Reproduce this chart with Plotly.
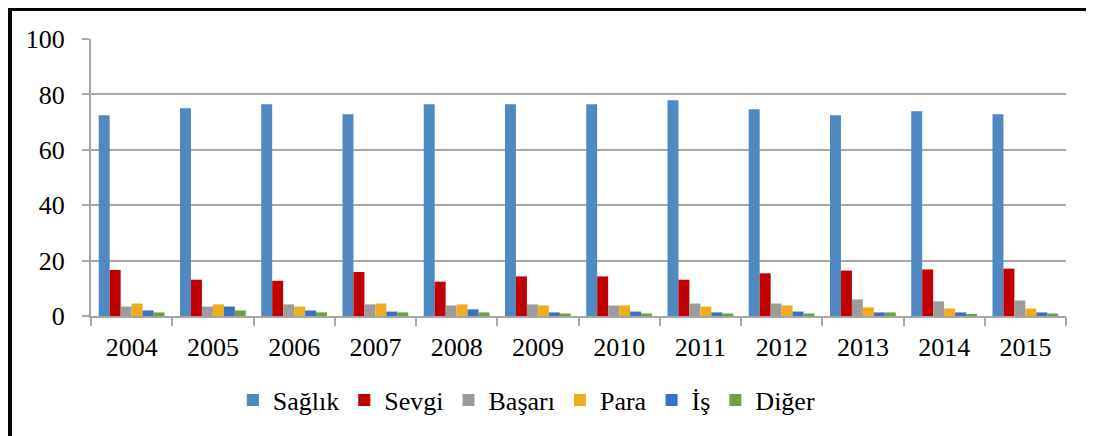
import plotly.graph_objects as go

years = ["2004", "2005", "2006", "2007", "2008", "2009", "2010", "2011", "2012", "2013", "2014", "2015"]
saglik = [72.5, 75.0, 76.4, 72.8, 76.4, 76.4, 76.4, 77.9, 74.6, 72.5, 73.9, 72.8]
sevgi = [16.6, 13.1, 12.7, 15.9, 12.4, 14.3, 14.3, 13.1, 15.4, 16.4, 16.8, 17.1]
basari = [3.4, 3.4, 4.2, 4.2, 3.8, 4.2, 3.8, 4.5, 4.5, 6.0, 5.3, 5.6]
para = [4.5, 4.2, 3.4, 4.5, 4.2, 3.8, 3.8, 3.4, 3.8, 3.1, 2.7, 2.7]
is_ = [2.0, 3.4, 2.0, 1.6, 2.4, 1.3, 1.6, 1.3, 1.6, 1.3, 1.3, 1.3]
diger = [1.3, 2.0, 1.3, 1.3, 1.3, 0.9, 0.9, 0.9, 0.9, 1.3, 0.5, 0.9]

series = [
    ("Sağlık", saglik, "#5089C2"),
    ("Sevgi", sevgi, "#C00000"),
    ("Başarı", basari, "#9C9C9C"),
    ("Para", para, "#EEAD1C"),
    ("İş", is_, "#3F6EBE"),
    ("Diğer", diger, "#6AA143"),
]

fig = go.Figure()
for name, vals, col in series:
    fig.add_trace(go.Bar(x=years, y=vals, name=name, marker_color=col, marker_line_width=0))

# page body has an 8px margin, so the figure starts at (8, 8) in the window
OFF = 8
W, H = 1094 - OFF, 436 - OFF
L, R, T, B = 91 - OFF, 28, 39 - OFF, 120
pw, ph = W - L - R, H - T - B

bx = (2 - L) / pw
by = 1 + (T - 1) / ph

fig.update_layout(
    width=W, height=H,
    margin=dict(l=L, r=R, t=T, b=B, pad=0, autoexpand=False),
    paper_bgcolor="white", plot_bgcolor="white",
    barmode="group", bargap=0.19, bargroupgap=0,
    font=dict(family="Liberation Serif, Times New Roman, serif", size=26, color="black"),
    showlegend=True,
    legend=dict(orientation="h", x=0.447, xanchor="center", y=(T + ph - (400 - OFF)) / ph, yanchor="middle",
                font=dict(size=26), itemsizing="constant", traceorder="normal",
                bgcolor="rgba(0,0,0,0)"),
    shapes=[dict(type="rect", xref="paper", yref="paper", x0=bx, x1=1.2, y0=-1, y1=by,
                 line=dict(color="black", width=4), fillcolor="rgba(0,0,0,0)", layer="above")],
)
fig.update_xaxes(type="category", showline=True, linecolor="#A6A6A6", linewidth=2,
                 ticks="outside", tickson="boundaries", ticklen=8, tickcolor="#A6A6A6", tickwidth=2,
                 showgrid=False, tickfont=dict(size=26), ticklabelstandoff=7)
fig.update_yaxes(range=[0, 100], dtick=20, showline=True, linecolor="#A6A6A6", linewidth=2,
                 ticks="outside", ticklen=7, tickcolor="#A6A6A6", tickwidth=2,
                 showgrid=True, gridcolor="#A6A6A6", gridwidth=2, zeroline=False,
                 tickfont=dict(size=26), ticklabelstandoff=12)

fig.write_html("out.html")
